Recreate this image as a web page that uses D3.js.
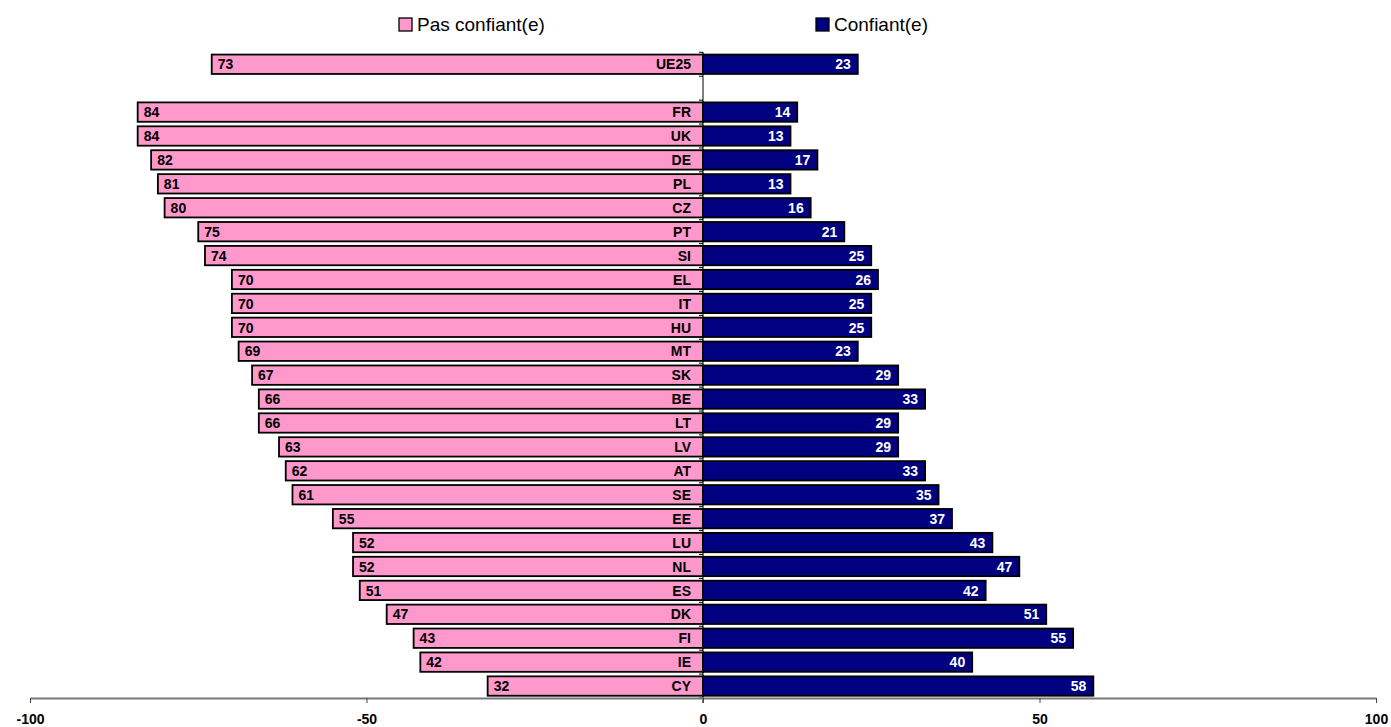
<!DOCTYPE html>
<html lang="fr">
<head>
  <meta charset="UTF-8">
  <title>Confiance</title>
  <style>
    body { margin: 0; background: #fff; }
    svg { display: block; font-family: "Liberation Sans", Arial, sans-serif; }
  </style>
</head>
<body>
  <svg></svg>
  <script src="https://d3js.org/d3.v7.min.js"></script>
  <script>
    var countries = ["UE25", "", "FR", "UK", "DE", "PL", "CZ", "PT", "SI", "EL", "IT", "HU", "MT", "SK",
                     "BE", "LT", "LV", "AT", "SE", "EE", "LU", "NL", "ES", "DK", "FI", "IE", "CY"];
    var pasConfiant = [73, null, 84, 84, 82, 81, 80, 75, 74, 70, 70, 70, 69, 67,
                       66, 66, 63, 62, 61, 55, 52, 52, 51, 47, 43, 42, 32];
    var confiant = [23, null, 14, 13, 17, 13, 16, 21, 25, 26, 25, 25, 23, 29,
                    33, 29, 29, 33, 35, 37, 43, 47, 42, 51, 55, 40, 58];
    var ticks = [-100, -50, 0, 50, 100];

    var width = 1391;
    var height = 727;

    var rows = countries.map((c, i) => ({ key: "r" + i, code: c, neg: pasConfiant[i], pos: confiant[i] }));

    var x = d3.scaleLinear()
              .domain([-100, 100])
              .range([30, 1376]);

    var y = d3.scaleBand()
              .domain(rows.map(d => d.key))
              .range([52.3, 698])
              .paddingInner(0.19)
              .paddingOuter(0.095);

    var svg = d3.select("svg")
        .attr("width", width)
        .attr("height", height);

    var data = rows.filter(d => d.neg != null);

    // pink bars
    svg.selectAll("rect.neg")
      .data(data)
      .enter()
      .append("rect")
        .attr("class", "neg")
        .attr("x", d => x(-d.neg))
        .attr("y", d => y(d.key))
        .attr("width", d => x(0) - x(-d.neg))
        .attr("height", y.bandwidth())
        .attr("fill", "#FF99CC")
        .attr("stroke", "#000")
        .attr("stroke-width", 1.8);

    // navy bars
    svg.selectAll("rect.pos")
      .data(data)
      .enter()
      .append("rect")
        .attr("class", "pos")
        .attr("x", x(0))
        .attr("y", d => y(d.key))
        .attr("width", d => x(d.pos) - x(0))
        .attr("height", y.bandwidth())
        .attr("fill", "#000080")
        .attr("stroke", "#000")
        .attr("stroke-width", 1.8);

    // vertical axis at zero with small ticks at band edges
    var yAxis = svg.append("g");
    yAxis.append("line")
        .attr("x1", x(0)).attr("x2", x(0))
        .attr("y1", 52).attr("y2", 703)
        .attr("stroke", "#000");
    var edges = rows.map(d => y(d.key) - y.step() * y.paddingInner() / 2).concat([698]);
    yAxis.selectAll("line.tk")
      .data(edges)
      .enter()
      .append("line")
        .attr("x1", x(0) - 4).attr("x2", x(0))
        .attr("y1", d => d).attr("y2", d => d)
        .attr("stroke", "#000");

    var mid = d => y(d.key) + y.bandwidth() / 2 + 5.2;

    svg.selectAll("text.code")
      .data(data)
      .enter()
      .append("text")
        .attr("x", x(0) - 12)
        .attr("y", mid)
        .attr("text-anchor", "end")
        .attr("font-size", 14)
        .attr("font-weight", "bold")
        .text(d => d.code);

    svg.selectAll("text.nv")
      .data(data)
      .enter()
      .append("text")
        .attr("x", d => x(-d.neg) + 6)
        .attr("y", mid)
        .attr("font-size", 14)
        .attr("font-weight", "bold")
        .text(d => d.neg);

    svg.selectAll("text.pv")
      .data(data)
      .enter()
      .append("text")
        .attr("x", d => x(d.pos) - 7)
        .attr("y", mid)
        .attr("text-anchor", "end")
        .attr("font-size", 14)
        .attr("font-weight", "bold")
        .attr("fill", "#fff")
        .text(d => d.pos);

    // bottom axis
    var xAxis = svg.append("g")
        .attr("transform", "translate(0,698)")
        .call(d3.axisBottom(x).tickValues(ticks).tickFormat(d => String(d))
                .tickSize(5).tickSizeOuter(0).tickPadding(11));
    xAxis.select(".domain").attr("stroke", "#777").attr("stroke-width", 2);
    xAxis.selectAll(".tick line").attr("stroke", "#444");
    xAxis.selectAll(".tick text")
        .attr("font-size", 14)
        .attr("font-weight", "bold")
        .attr("font-family", "Liberation Sans, Arial, sans-serif")
        .attr("fill", "#000");

    // legend
    var legend = [
      { label: "Pas confiant(e)", color: "#FF99CC", x: 399 },
      { label: "Confiant(e)", color: "#000080", x: 816 }
    ];
    var lg = svg.selectAll("g.lg")
      .data(legend)
      .enter()
      .append("g")
        .attr("transform", d => "translate(" + d.x + ",18)");
    lg.append("rect")
        .attr("width", 13).attr("height", 13)
        .attr("fill", d => d.color)
        .attr("stroke", "#000")
        .attr("stroke-width", 1.3);
    lg.append("text")
        .attr("x", 18).attr("y", 13)
        .attr("font-size", 19)
        .text(d => d.label);
  </script>
</body>
</html>
